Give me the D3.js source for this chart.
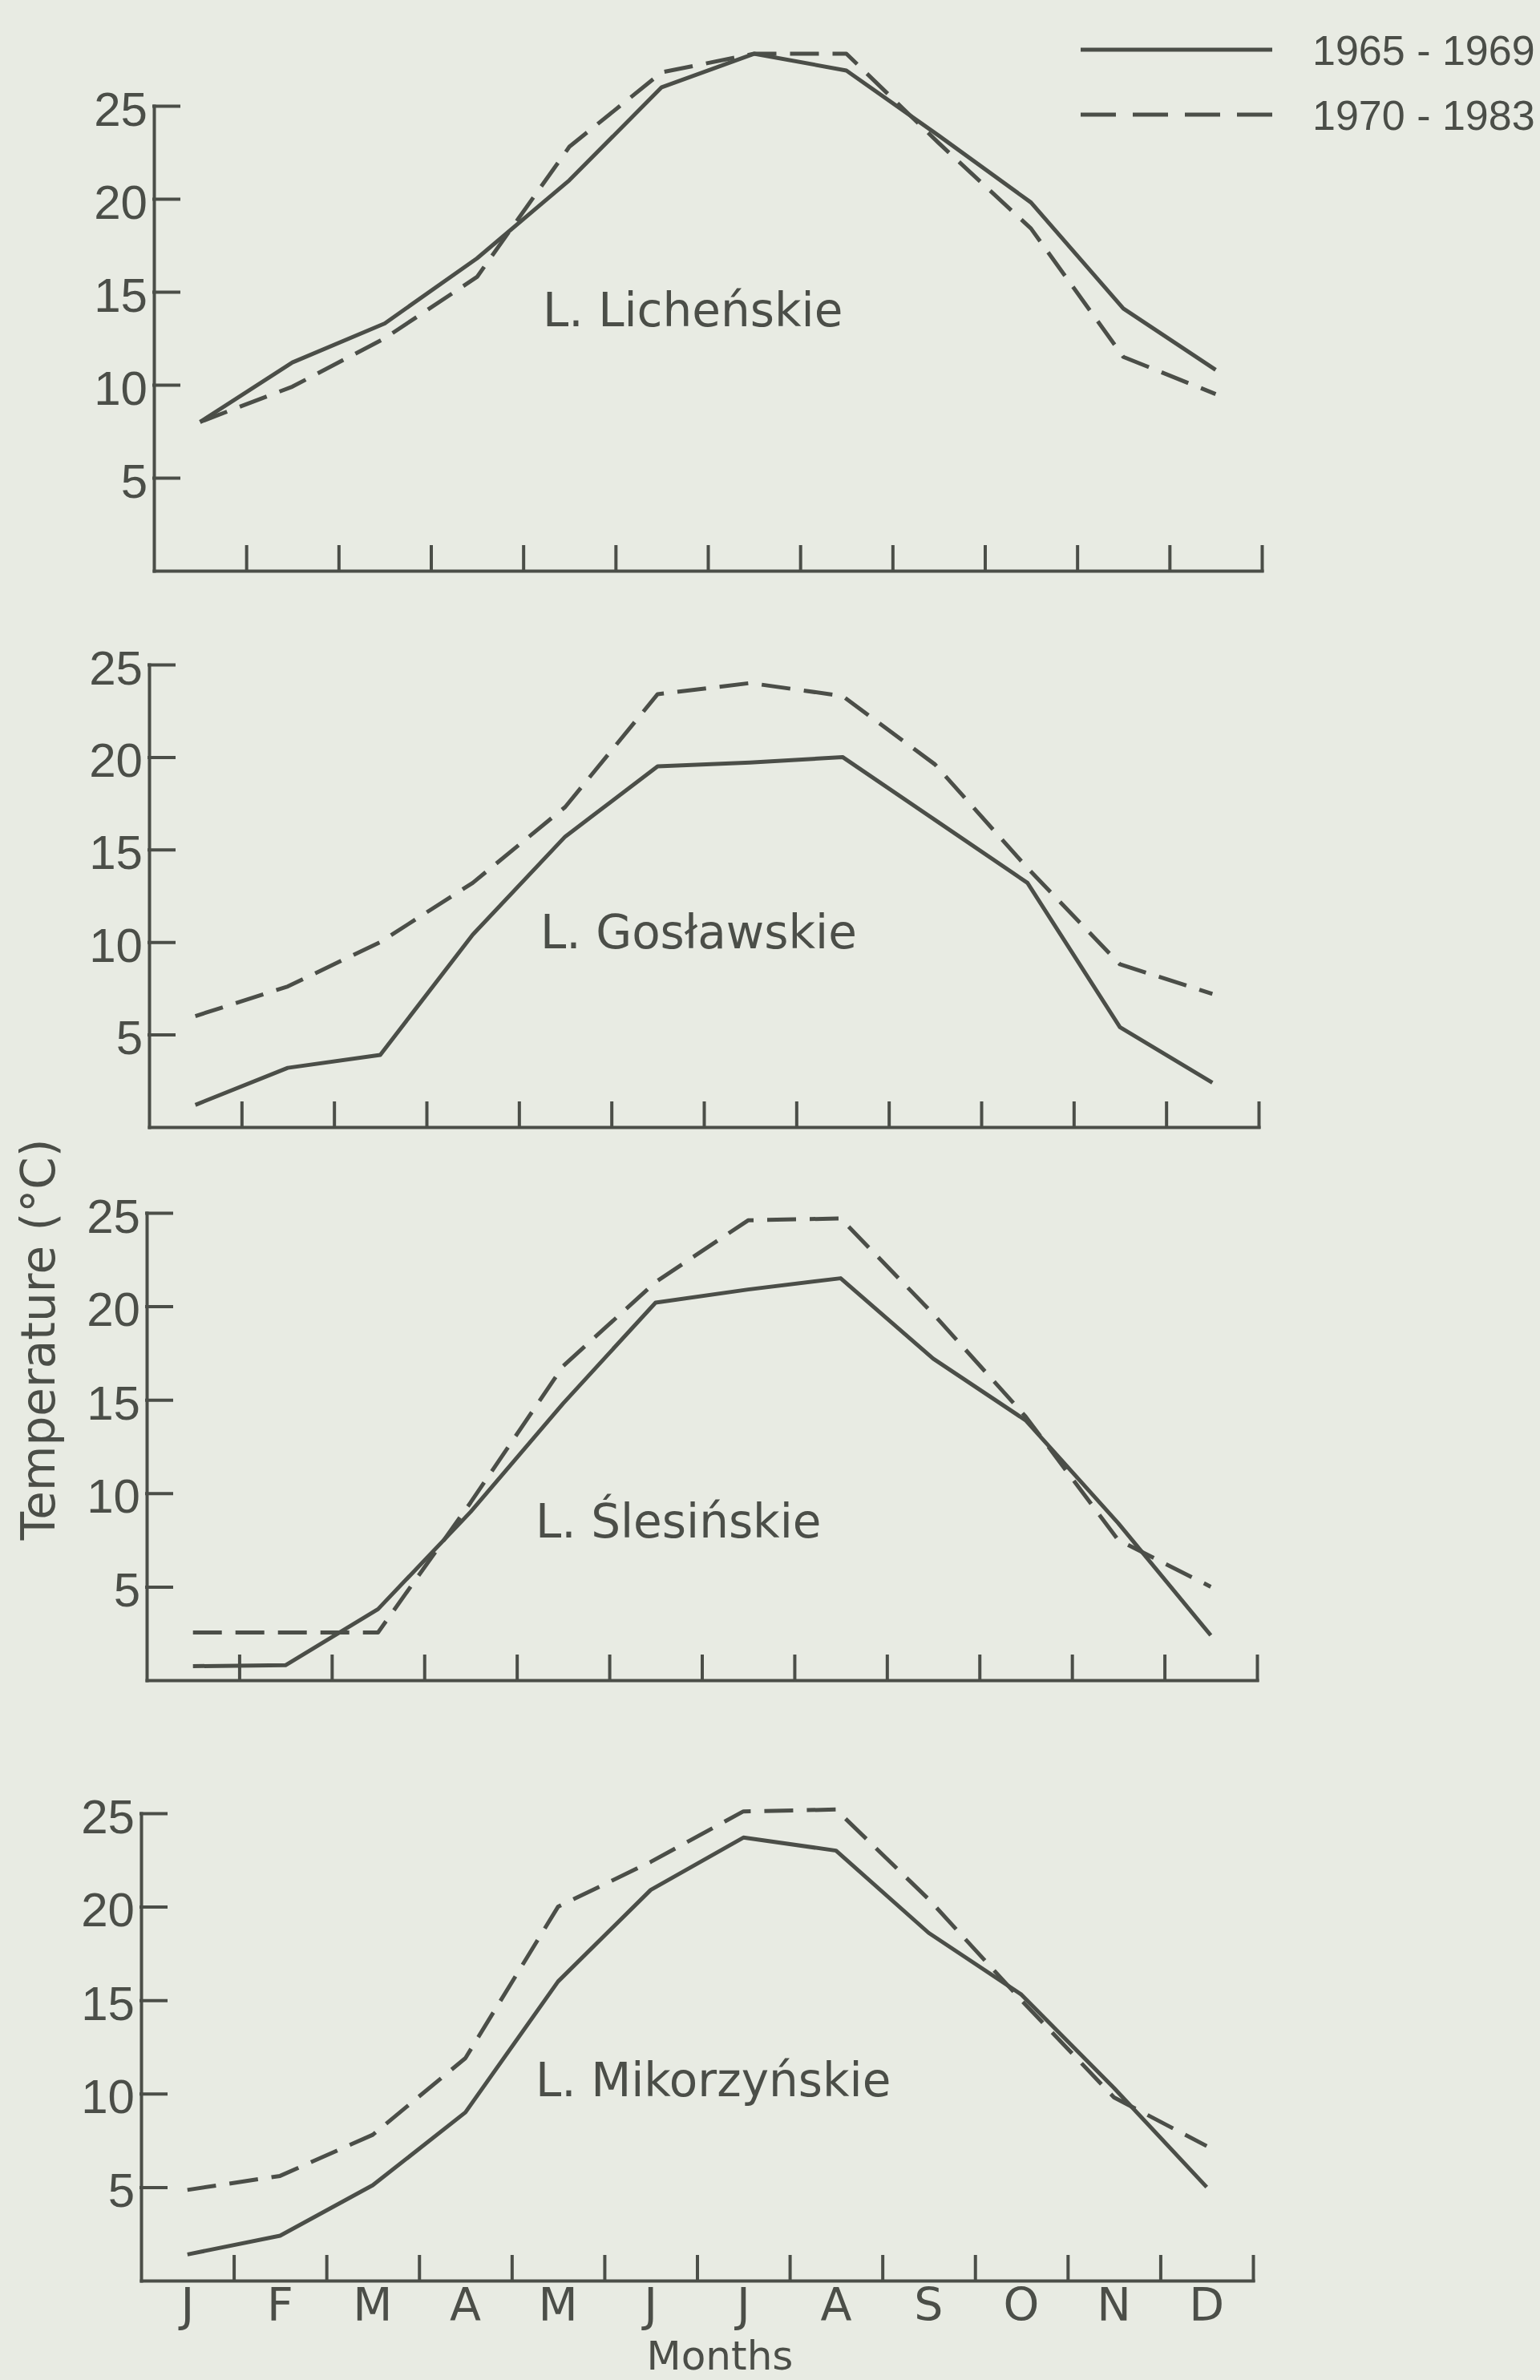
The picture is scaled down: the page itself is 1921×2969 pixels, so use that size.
<!DOCTYPE html>
<html>
<head>
<meta charset="utf-8">
<script src="https://cdn.jsdelivr.net/npm/d3@7"></script>
<style>
  body { margin: 0; background: #e8ebe3; }
  svg text { fill: #4b4e48; font-family: "DejaVu Sans", sans-serif; }
  .num { font-family: "Liberation Sans", Arimo, sans-serif; }
</style>
</head>
<body>
<div id="chart"></div>
<script>
const months = ["J", "F", "M", "A", "M", "J", "J", "A", "S", "O", "N", "D"]
const yTicks = [5, 10, 15, 20, 25]
const periods = ["1965 - 1969", "1970 - 1983"]
const lakes = ["L. Licheńskie", "L. Gosławskie", "L. Ślesińskie", "L. Mikorzyńskie"]

// mean monthly surface temperature (°C), 1965-1969 and 1970-1983
const lichenskie1 = [8.0, 11.2, 13.3, 16.8, 21.0, 26.0, 27.8, 26.9, 23.4, 19.8, 14.1, 10.8]
const lichenskie2 = [8.0, 9.9, 12.5, 15.8, 22.8, 26.8, 27.8, 27.8, 23.0, 18.4, 11.5, 9.5]
const goslawskie1 = [1.2, 3.2, 3.9, 10.4, 15.7, 19.5, 19.7, 20.0, 16.6, 13.2, 5.4, 2.4]
const goslawskie2 = [6.0, 7.6, 10.0, 13.2, 17.3, 23.4, 24.0, 23.3, 19.6, 14.0, 8.8, 7.2]
const slesinskie1 = [0.75, 0.8, 3.8, 9.0, 14.8, 20.2, 20.9, 21.5, 17.2, 13.9, 8.4, 2.4]
const slesinskie2 = [2.55, 2.55, 2.55, 9.5, 16.8, 21.3, 24.6, 24.7, 19.6, 14.1, 7.5, 5.0]
const mikorzynskie1 = [1.4, 2.4, 5.1, 9.0, 16.0, 20.9, 23.7, 23.0, 18.6, 15.3, 10.3, 5.0]
const mikorzynskie2 = [4.85, 5.6, 7.8, 11.9, 20.0, 22.4, 25.1, 25.2, 20.4, 15.0, 9.8, 7.2]

const series = [
  [lichenskie1, lichenskie2],
  [goslawskie1, goslawskie2],
  [slesinskie1, slesinskie2],
  [mikorzynskie1, mikorzynskie2]
]

// where each panel sits on the page (the scan is a bit skewed, so left edges differ)
const layout = [
  {left: 192, right: 1574, base: 712, top: 132, labelX: 485, labelY: 407},
  {left: 186, right: 1570, base: 1406, top: 829, labelX: 488, labelY: 1183},
  {left: 183, right: 1568, base: 2096, top: 1513, labelX: 485, labelY: 1918},
  {left: 176, right: 1563, base: 2845, top: 2262, labelX: 492, labelY: 2615}
]

const width = 1921, height = 2969
const ink = "#4b4e48"
const dash = "36,17"

const svg = d3.select("#chart")
  .append("svg")
    .attr("width", width)
    .attr("height", height)

svg.append("rect")
  .attr("width", width)
  .attr("height", height)
  .attr("fill", "#e8ebe3")

layout.forEach((p, i) => {
  const x = d3.scaleBand()
      .domain(d3.range(months.length))
      .range([p.left, p.right])
  const xEdge = d3.scaleLinear()
      .domain([0, months.length])
      .range([p.left, p.right])
  const y = d3.scaleLinear()
      .domain([0, 25])
      .range([p.base, p.top])

  const g = svg.append("g")

  // y axis, ticks point into the plot
  g.append("g")
      .attr("transform", `translate(${p.left},0)`)
      .attr("color", ink)
      .call(d3.axisRight(y).tickValues(yTicks).tickSize(31).tickSizeOuter(0).tickFormat(""))
      .call(a => a.selectAll("path, line").attr("stroke-width", 4).attr("stroke-linecap", "square"))

  // x axis, ticks on month boundaries pointing up
  g.append("g")
      .attr("transform", `translate(0,${p.base})`)
      .attr("color", ink)
      .call(d3.axisTop(xEdge).tickValues(d3.range(1, months.length + 1)).tickSize(30).tickSizeOuter(0).tickFormat(""))
      .call(a => a.selectAll("path, line").attr("stroke-width", 4).attr("stroke-linecap", "square"))

  g.append("g")
    .selectAll("text")
    .data(yTicks)
    .join("text")
      .attr("class", "num")
      .attr("x", p.left - 8)
      .attr("y", d => y(d))
      .attr("dy", "0.41em")
      .attr("text-anchor", "end")
      .style("font-size", "60px")
      .text(d => d)

  const line = d3.line()
      .x((d, j) => x(j) + x.bandwidth() / 2)
      .y(d => y(d))

  g.append("g")
    .selectAll("path")
    .data(series[i])
    .join("path")
      .attr("fill", "none")
      .attr("stroke", ink)
      .attr("stroke-width", 5)
      .attr("stroke-linejoin", "round")
      .attr("stroke-dasharray", (d, k) => k == 1 ? dash : null)
      .attr("d", line)

  g.append("text")
      .attr("x", p.left + p.labelX)
      .attr("y", p.labelY)
      .style("font-size", "58px")
      .text(lakes[i])

  // month letters only under the last panel
  if (i == layout.length - 1) {
    g.append("g")
      .selectAll("text")
      .data(months)
      .join("text")
        .attr("x", (d, j) => x(j) + x.bandwidth() / 2)
        .attr("y", p.base + 50)
        .attr("text-anchor", "middle")
        .style("font-size", "57px")
        .text(d => d)
  }
})

// axis titles
svg.append("text")
    .attr("transform", "translate(68,1671) rotate(-90)")
    .attr("text-anchor", "middle")
    .style("font-size", "58px")
    .text("Temperature (°C)")

svg.append("text")
    .attr("x", 898)
    .attr("y", 2956)
    .attr("text-anchor", "middle")
    .style("font-size", "50px")
    .text("Months")

// legend
const legend = svg.append("g")
  .selectAll("g")
  .data(periods)
  .join("g")
    .attr("transform", (d, k) => `translate(1348,${62 + k * 81})`)

legend.append("line")
    .attr("x2", 239)
    .attr("stroke", ink)
    .attr("stroke-width", 5)
    .attr("stroke-dasharray", (d, k) => k == 1 ? "44,21" : null)

legend.append("text")
    .attr("class", "num")
    .attr("x", 289)
    .attr("dy", "0.36em")
    .style("font-size", "52px")
    .text(d => d)
</script>
</body>
</html>
